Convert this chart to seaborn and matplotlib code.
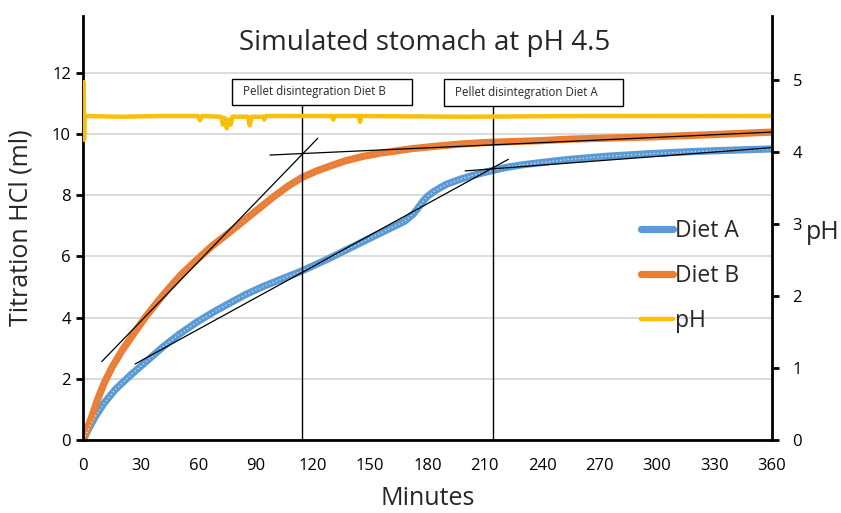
import matplotlib
matplotlib.use("Agg")
import matplotlib.pyplot as plt
import seaborn as sns
from matplotlib.lines import Line2D
from matplotlib.patches import Rectangle

# --- data ---
DIET_A_MIN = [0, 1, 2.9, 6.4, 10.8, 16.9, 24.7, 30.8, 41.8, 50, 59.3, 68, 76.7, 85,
              94.1, 104, 113.3, 128, 141.2, 158.7, 168, 172.7, 175, 177.5, 180,
              183.2, 186.6, 190.2, 197.2, 204, 211, 220, 228.5, 239, 252.9, 273.8,
              295, 317.4, 340, 360]
DIET_A_ML = [0, 0.14, 0.38, 0.78, 1.2, 1.66, 2.12, 2.45, 3.05, 3.45, 3.85, 4.18, 4.48,
             4.76, 5.02, 5.27, 5.5, 5.92, 6.33, 6.87, 7.15, 7.4, 7.58, 7.8, 7.97,
             8.12, 8.25, 8.37, 8.53, 8.66, 8.77, 8.9, 8.99, 9.07, 9.17, 9.28,
             9.36, 9.43, 9.48, 9.52]

DIET_B_MIN = [0, 1, 2.1, 4.7, 7.3, 10.8, 15.1, 20.4, 26.5, 32.6, 39.6, 43.9, 51,
              59.3, 67, 75, 85.5, 99.4, 107, 114.2, 122, 129.1, 137, 146.6, 155,
              164, 172, 181.5, 197.2, 211, 239, 255, 300, 330, 360]
DIET_B_ML = [0, 0.18, 0.38, 0.82, 1.3, 1.85, 2.39, 2.94, 3.49, 4.03, 4.58, 4.9, 5.4,
             5.89, 6.33, 6.72, 7.25, 7.95, 8.3, 8.58, 8.8, 8.96, 9.13, 9.28, 9.38,
             9.46, 9.53, 9.59, 9.68, 9.73, 9.79, 9.84, 9.92, 9.99, 10.07]

PH_MIN = [0, 0.15, 0.35, 0.6, 20, 40, 60, 61, 62, 72, 73, 74, 75, 76, 77, 78, 86, 87,
          88, 94, 94.7, 95.5, 130, 130.7, 131.5, 144, 144.7, 145.5, 200, 260, 360]
PH_VAL = [4.5, 4.97, 4.17, 4.5, 4.49, 4.5, 4.5, 4.44, 4.5, 4.49, 4.38, 4.47, 4.33,
          4.45, 4.38, 4.49, 4.49, 4.37, 4.49, 4.49, 4.45, 4.5, 4.5, 4.45, 4.5, 4.5,
          4.42, 4.5, 4.49, 4.5, 4.5]

# tangent lines (start / end points) and pellet disintegration times
TANGENT_B_STEEP = ([9.6, 122.6], [2.56, 9.87])
TANGENT_B_FLAT = ([97.6, 360], [9.32, 10.07])
TANGENT_A_STEEP = ([27, 222.3], [2.48, 9.18])
TANGENT_A_FLAT = ([199.7, 360], [8.8, 9.56])
DISINTEGRATION_MIN = [114.2, 214.4]
DISINTEGRATION_LABELS = ["Pellet disintegration Diet B", "Pellet disintegration Diet A"]

X_TICKS = list(range(0, 361, 30))
Y_TICKS = list(range(0, 13, 2))
PH_TICKS = list(range(0, 6))

BLUE = "#5b9bd5"
ORANGE = "#ed7d31"
YELLOW = "#ffc000"
FONT = ["Open Sans", "DejaVu Sans"]

sns.set_theme(style="white")
plt.rcParams["font.family"] = FONT

fig = plt.figure(figsize=(8.41, 5.13), dpi=100)
ax = fig.add_axes([0.0992, 0.1427, 0.8183, 0.8261])
ax2 = ax.twinx()

line_kw = dict(solid_joinstyle="round", solid_capstyle="round")
sns.lineplot(x=DIET_A_MIN, y=DIET_A_ML, ax=ax, color=BLUE, linewidth=5.2,
             legend=False, **line_kw)
sns.lineplot(x=DIET_B_MIN, y=DIET_B_ML, ax=ax, color=ORANGE, linewidth=5.2,
             legend=False, **line_kw)
# excel-style marker dots along the centre of each band
ax.plot(DIET_A_MIN, DIET_A_ML, color="#d6e4f4", lw=0.9, ls=(0, (1, 2)))
ax.plot(DIET_B_MIN, DIET_B_ML, color="#9aa9c6", lw=0.9, ls=(0, (1, 3)))

sns.lineplot(x=PH_MIN, y=PH_VAL, ax=ax2, color=YELLOW, linewidth=3.2, legend=False)
ax2.plot(PH_MIN, PH_VAL, color="#b8b0a0", lw=0.7, ls=(0, (1, 4)))

for xs, ys in (TANGENT_B_STEEP, TANGENT_B_FLAT, TANGENT_A_STEEP, TANGENT_A_FLAT):
    ax.plot(xs, ys, color="black", lw=0.9, zorder=5)

# annotation boxes (data units: minutes, ml)
boxes = [(77.8, 171.8, 10.97, 11.8), (188.7, 282.2, 10.92, 11.8)]
for t, label, (x0, x1, y0, y1) in zip(DISINTEGRATION_MIN, DISINTEGRATION_LABELS, boxes):
    ax.vlines(t, 0, y0, color="black", lw=1.0, zorder=5)
    ax.add_patch(Rectangle((x0, y0), x1 - x0, y1 - y0, facecolor="white",
                           edgecolor="black", lw=1.0, zorder=6))
    ax.text(x0 + 5.8, (y0 + y1) / 2, label, fontsize=8.3, ha="left", va="center", zorder=7)

ax.set_xlim(0, 360)
ax.set_ylim(0, 13.87)
ax2.set_ylim(0, 5.89)
ax.set_xticks(X_TICKS)
ax.set_yticks(Y_TICKS)
ax2.set_yticks(PH_TICKS)

ax.grid(False)
ax2.grid(False)
ax.yaxis.grid(True, color="#d9d9d9", lw=1.3)
ax.set_axisbelow(True)

for name, sp in ax.spines.items():
    sp.set_visible(name in ("left", "bottom"))
    sp.set_color("black")
    sp.set_linewidth(2)
for name, sp in ax2.spines.items():
    sp.set_visible(name == "right")
    sp.set_color("black")
    sp.set_linewidth(2)

ax.tick_params(axis="both", direction="out", length=5, width=2, color="black",
               labelsize=12, labelcolor="black")
ax.tick_params(axis="x", pad=8)
ax.tick_params(axis="y", pad=4)
ax2.tick_params(axis="y", direction="out", length=5, width=2, color="black",
                labelsize=12, labelcolor="black", pad=10)

ax.set_xlabel("Minutes", fontsize=18, labelpad=9)
ax.set_ylabel("Titration HCl (ml)", fontsize=18)
ax.yaxis.set_label_coords(-0.072, 0.5)
ax2.set_ylabel("pH", fontsize=18, rotation=0, ha="center", va="center")
ax2.yaxis.set_label_coords(1.075, 0.49)

fig.text(425 / 841, 1 - 43 / 513, "Simulated stomach at pH 4.5", fontsize=20,
         ha="center", va="center")

handles = [Line2D([], [], color=BLUE, lw=5.2, solid_capstyle="round"),
           Line2D([], [], color=ORANGE, lw=5.2, solid_capstyle="round"),
           Line2D([], [], color=YELLOW, lw=3.2)]
fig.legend(handles, ["Diet A", "Diet B", "pH"], loc="center left",
           bbox_to_anchor=(641 / 841, 1 - 276 / 513), frameon=False, fontsize=16.5,
           handlelength=1.4, handletextpad=0.1, labelspacing=0.9,
           borderpad=0, borderaxespad=0)

fig.savefig("out.png", dpi=100)
